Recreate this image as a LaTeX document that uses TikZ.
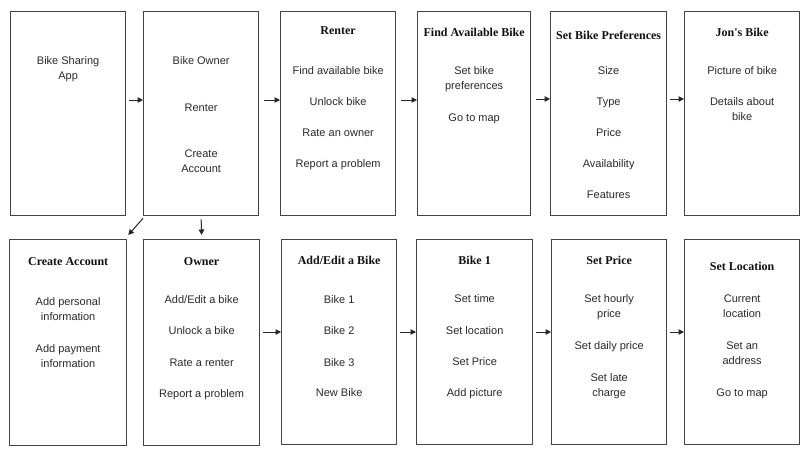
\documentclass[tikz,border=0pt]{standalone}
\usepackage{fontspec}
\setmainfont{Liberation Sans}
\newfontfamily\titlefont{Liberation Serif}
\usetikzlibrary{arrows.meta,calc}
\definecolor{boxline}{HTML}{444444}
\definecolor{bodytext}{HTML}{2A2A2A}
\definecolor{titletext}{HTML}{111111}
\newcommand{\bodyfont}{\fontsize{11}{15.5}\selectfont}
\begin{document}
\begin{tikzpicture}[x=1pt,y=-1pt,
  screen/.style={draw=boxline,line width=1.3pt,fill=white,anchor=north west,inner sep=0pt,minimum width=115pt,minimum height=204pt},
  ttl/.style={anchor=base,inner sep=0pt,text=titletext,font=\titlefont\bfseries\fontsize{12}{14}\selectfont},
  txt/.style={anchor=north,inner sep=0pt,align=center,text=bodytext,font=\bodyfont},
  arr/.style={draw=black!85,line width=1pt,-{Triangle[length=5.5pt,width=5.5pt]}}]
\fill[white] (0,0) rectangle (808,455);
\useasboundingbox (0,0) rectangle (808,455);
% top row
\node[screen] (b1) at (10,11) {};
\node[screen] (b2) at (143,11) {};
\node[screen] (b3) at (280,11) {};
\node[screen,minimum width=113pt] (b4) at (417,11) {};
\node[screen,minimum width=116pt] (b5) at (550,11) {};
\node[screen] (b6) at (684,11) {};
% bottom row
\node[screen,minimum width=117pt,minimum height=206pt] (b7) at (9,239) {};
\node[screen,minimum width=116pt,minimum height=206pt] (b8) at (143,239) {};
\node[screen,minimum height=205pt] (b9) at (281,239) {};
\node[screen,minimum width=116pt,minimum height=205pt] (b10) at (416,239) {};
\node[screen,minimum height=205pt] (b11) at (551,239) {};
\node[screen,minimum height=205pt] (b12) at (684,239) {};
% texts top
\node[txt] (t1a) at (b1.north |- 0,53) {\strut Bike Sharing\\App};
\node[txt] (t2a) at (b2.north |- 0,53) {\strut Bike Owner};
\node[txt] (t2b) at (b2.north |- 0,100) {\strut Renter};
\node[txt] (t2c) at (b2.north |- 0,146) {\strut Create\\Account};
\node[ttl] (h3) at (b3.north |- 0,34) {Renter};
\node[txt] (t3a) at (b3.north |- 0,63) {\strut Find available bike};
\node[txt] (t3b) at (b3.north |- 0,94) {\strut Unlock bike};
\node[txt] (t3c) at (b3.north |- 0,125) {\strut Rate an owner};
\node[txt] (t3d) at (b3.north |- 0,156) {\strut Report a problem};
\node[ttl] (h4) at (b4.north |- 0,36) {Find Available Bike};
\node[txt] (t4a) at (b4.north |- 0,63) {\strut Set bike\\preferences};
\node[txt] (t4b) at (b4.north |- 0,110) {\strut Go to map};
\node[ttl] (h5) at (b5.north |- 0,39) {Set Bike Preferences};
\node[txt] (t5a) at (b5.north |- 0,63) {\strut Size};
\node[txt] (t5b) at (b5.north |- 0,94) {\strut Type};
\node[txt] (t5c) at (b5.north |- 0,125) {\strut Price};
\node[txt] (t5d) at (b5.north |- 0,156) {\strut Availability};
\node[txt] (t5e) at (b5.north |- 0,187) {\strut Features};
\node[ttl] (h6) at (b6.north |- 0,36) {Jon's Bike};
\node[txt] (t6a) at (b6.north |- 0,63) {\strut Picture of bike};
\node[txt] (t6b) at (b6.north |- 0,94) {\strut Details about\\bike};
% texts bottom
\node[ttl] (h7) at (b7.north |- 0,265) {Create Account};
\node[txt] (t7a) at (b7.north |- 0,294) {\strut Add personal\\information};
\node[txt] (t7b) at (b7.north |- 0,341) {\strut Add payment\\information};
\node[ttl] (h8) at (b8.north |- 0,265) {Owner};
\node[txt] (t8a) at (b8.north |- 0,292) {\strut Add/Edit a bike};
\node[txt] (t8b) at (b8.north |- 0,323) {\strut Unlock a bike};
\node[txt] (t8c) at (b8.north |- 0,355) {\strut Rate a renter};
\node[txt] (t8d) at (b8.north |- 0,386) {\strut Report a problem};
\node[ttl] (h9) at (b9.north |- 0,264) {Add/Edit a Bike};
\node[txt] (t9a) at (b9.north |- 0,292) {\strut Bike 1};
\node[txt] (t9b) at (b9.north |- 0,323) {\strut Bike 2};
\node[txt] (t9c) at (b9.north |- 0,355) {\strut Bike 3};
\node[txt] (t9d) at (b9.north |- 0,385) {\strut New Bike};
\node[ttl] (h10) at (b10.north |- 0,264) {Bike 1};
\node[txt] (t10a) at (b10.north |- 0,291) {\strut Set time};
\node[txt] (t10b) at (b10.north |- 0,323) {\strut Set location};
\node[txt] (t10c) at (b10.north |- 0,354) {\strut Set Price};
\node[txt] (t10d) at (b10.north |- 0,385) {\strut Add picture};
\node[ttl] (h11) at (b11.north |- 0,264) {Set Price};
\node[txt] (t11a) at (b11.north |- 0,291) {\strut Set hourly\\price};
\node[txt] (t11b) at (b11.north |- 0,338) {\strut Set daily price};
\node[txt] (t11c) at (b11.north |- 0,370) {\strut Set late\\charge};
\node[ttl] (h12) at (b12.north |- 0,270) {Set Location};
\node[txt] (t12a) at (b12.north |- 0,291) {\strut Current\\location};
\node[txt] (t12b) at (b12.north |- 0,338) {\strut Set an\\address};
\node[txt] (t12c) at (b12.north |- 0,385) {\strut Go to map};
% arrows top
\draw[arr] ([shift={(3,89)}]b1.north east) -- ([yshift=-89pt]b2.north west);
\draw[arr] ([shift={(5,89)}]b2.north east) -- ([yshift=-89pt]b3.north west);
\draw[arr] ([shift={(5,89)}]b3.north east) -- ([yshift=-89pt]b4.north west);
\draw[arr] ([shift={(5,88)}]b4.north east) -- ([yshift=-88pt]b5.north west);
\draw[arr] ([shift={(3,88)}]b5.north east) -- ([yshift=-88pt]b6.north west);
% arrows bottom
\draw[arr] ([shift={(3,93)}]b8.north east) -- ([yshift=-93pt]b9.north west);
\draw[arr] ([shift={(3,93)}]b9.north east) -- ([yshift=-93pt]b10.north west);
\draw[arr] ([shift={(3,93)}]b10.north east) -- ([yshift=-93pt]b11.north west);
\draw[arr] ([shift={(3,93)}]b11.north east) -- ([yshift=-93pt]b12.north west);
% arrows down
\draw[arr] ([yshift=-2pt]b2.south west) -- ([shift={(1,-4)}]b7.north east);
\draw[arr] ([yshift=-3pt]b2.south) -- ([yshift=4pt]b8.north);
\end{tikzpicture}
\end{document}
